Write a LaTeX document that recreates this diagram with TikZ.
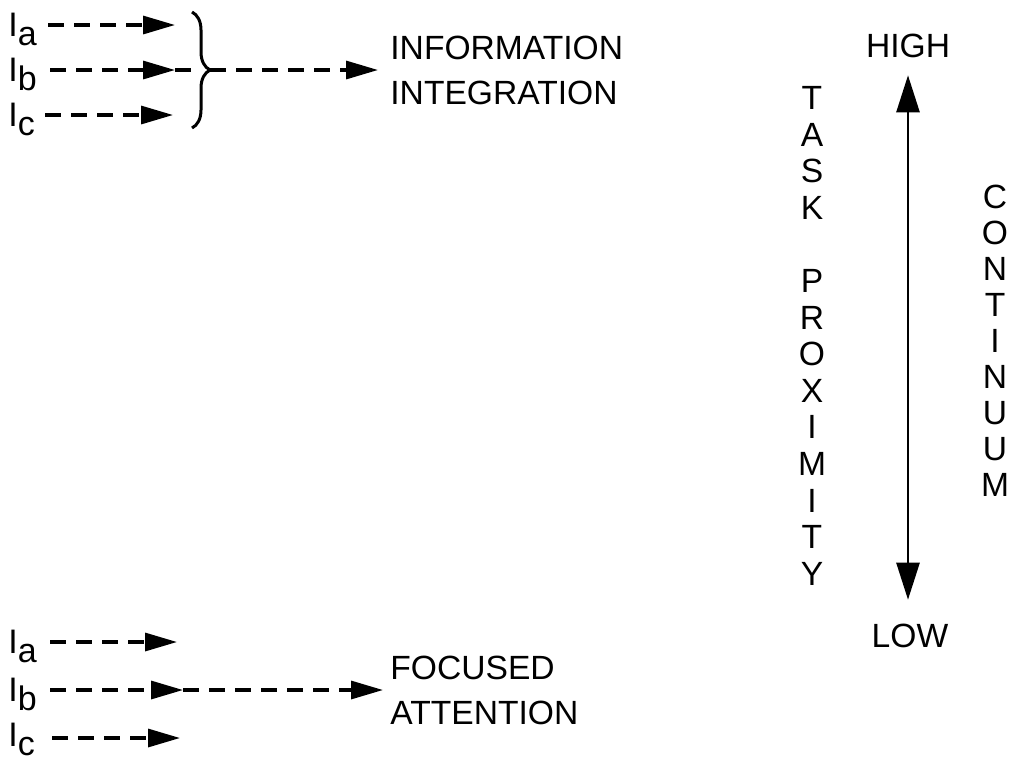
\documentclass[tikz,border=0pt]{standalone}
\usepackage{fontspec}
\setmainfont{Liberation Sans}
\usetikzlibrary{arrows.meta,decorations.pathreplacing}
\newcommand{\lbltext}[1]{I\lower4.5pt\hbox{#1}}
\begin{document}
\begin{tikzpicture}[x=0.5pt,y=-0.5pt,
  txt/.style={inner sep=0pt, font=\fontsize{16.8pt}{22.5pt}\selectfont, align=left},
  vtxt/.style={inner sep=0pt, align=center, anchor=north},
  lbl/.style={inner sep=0pt, anchor=base west, font=\fontsize{17pt}{20pt}\selectfont},
  dasharr/.style={line width=1.6pt, dash pattern=on 8pt off 5pt, -{Triangle[length=16pt,width=9pt]}},
  dashln/.style={line width=1.6pt, dash pattern=on 8pt off 5pt},
  varr/.style={line width=1.3pt, {Triangle[length=18.5pt,width=11.5pt]}-{Triangle[length=18.5pt,width=11.5pt]}},
  bracest/.style={line width=1.5pt, decorate, decoration={brace, amplitude=9pt}}
]
\useasboundingbox (0,0) rectangle (1017,762);

% ---- upper group ----
\node[lbl] (ua) at (8,36) {\lbltext{a}};
\node[lbl] (ub) at (8,81) {\lbltext{b}};
\node[lbl] (uc) at (8,126) {\lbltext{c}};
\coordinate (uas) at (48,25);  \coordinate (uat) at (175,25);
\coordinate (ubs) at (50,70);  \coordinate (ubt) at (175,70);
\coordinate (ucs) at (45,115); \coordinate (uct) at (173,115);
\coordinate (bsp) at (200,70);
\coordinate (btip) at (210,70);
\draw[dasharr] (uas) -- (uat);
\draw[dasharr] (ubs) -- (ubt);
\draw[dashln] (ubt) -- (bsp);
\draw[dasharr] (ucs) -- (uct);
\draw[bracest] (192,12) -- (192,128);
\node[txt, anchor=west] (ii) at (390,70) {INFORMATION\\INTEGRATION};
\draw[dasharr, shorten >=6pt] (btip) -- (ii.west);

% ---- lower group ----
\node[lbl] (la) at (8,653) {\lbltext{a}};
\node[lbl] (lb) at (8,701) {\lbltext{b}};
\node[lbl] (lc) at (8,746) {\lbltext{c}};
\coordinate (las) at (50,642);  \coordinate (lat) at (177,642);
\coordinate (lbs) at (50,690);  \coordinate (lbt) at (183,690);
\coordinate (lcs) at (52,738);  \coordinate (lct) at (180,738);
\draw[dasharr] (las) -- (lat);
\draw[dasharr] (lbs) -- (lbt);
\draw[dasharr] (lcs) -- (lct);
\node[txt, anchor=west] (fa) at (390,690) {FOCUSED\\ATTENTION};
\draw[dasharr, shorten >=3.5pt] (lbt) -- (fa.west);

% ---- continuum ----
\node[txt] (hi) at (908,46) {HIGH};
\node[txt] (lo) at (910,636) {LOW};
\draw[varr, shorten <=8.5pt, shorten >=12pt] (hi.south) -- (hi.south |- lo.north);
\node[vtxt, font=\fontsize{16.8pt}{18.3pt}\selectfont] (tp) at (812,86) {T\\A\\S\\K\\[18.3pt]P\\R\\O\\X\\I\\M\\I\\T\\Y};
\node[vtxt, font=\fontsize{16.8pt}{18pt}\selectfont] (cn) at (995,185) {C\\O\\N\\T\\I\\N\\U\\U\\M};
\end{tikzpicture}
\end{document}
